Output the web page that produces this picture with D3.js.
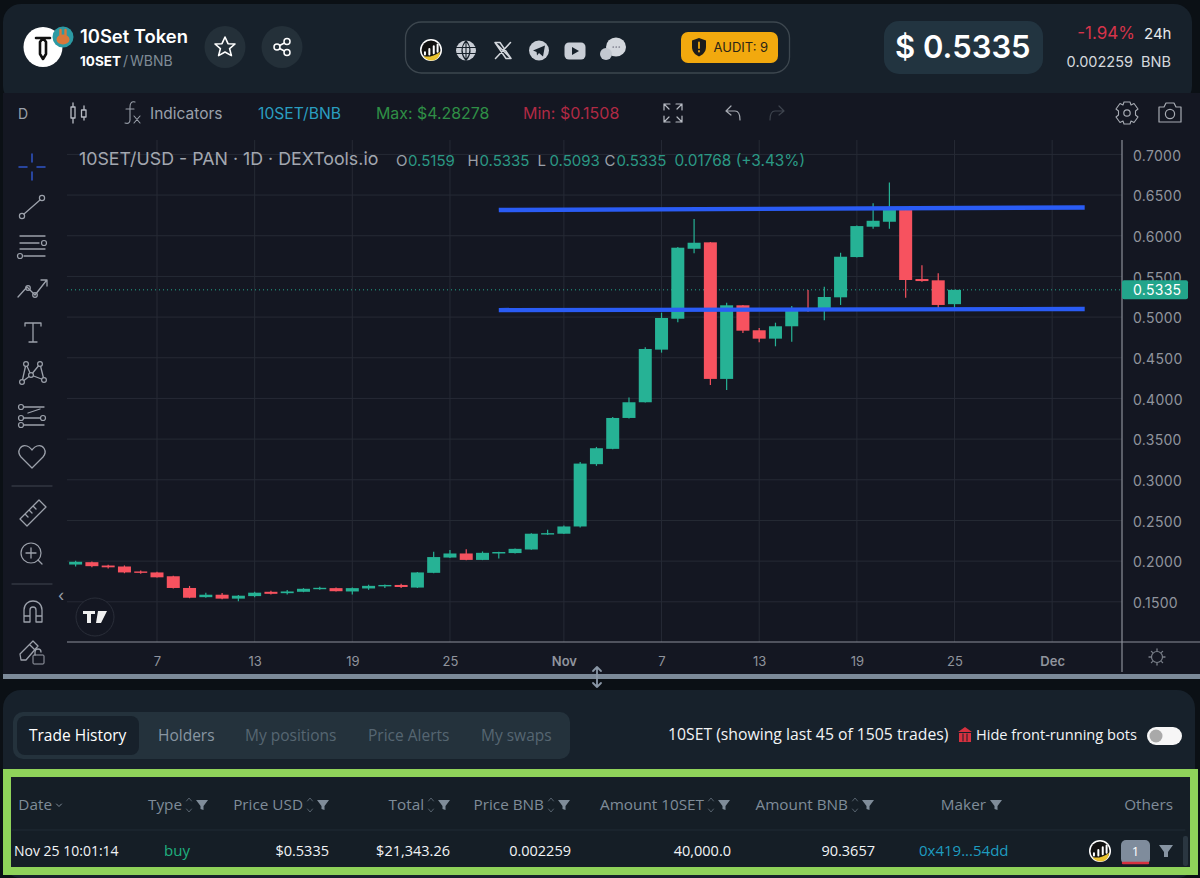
<!DOCTYPE html>
<html>
<head>
<meta charset="utf-8">
<script src="https://cdn.jsdelivr.net/npm/d3@7"></script>
<style>
html,body{margin:0;padding:0;background:#0b1015;overflow:hidden}
svg{display:block}
text{font-family:Inter,"Noto Sans",sans-serif}
</style>
</head>
<body>
<svg id="c" width="1200" height="878"></svg>
<script>
// ---- data ----
const firstDay = "2023-10-02";
const opens  = [.1958,.1987,.1946,.1934,.1873,.1861,.1814,.1670,.1557,.1587,.1539,.1570,.1623,.1606,.1623,.1656,.1668,.1627,.1664,.1690,.1707,.1675,.1856,.2044,.2094,.2015,.2094,.2099,.2143,.2327,.2337,.2426,.3192,.3380,.3760,.3953,.4600,.4980,.5840,.5919,.4240,.5145,.4838,.4735,.4887,.5103,.5079,.5243,.5738,.6111,.6172,.6316,.5468,.5452,.5159];
const highs  = [.2004,.1995,.1956,.1947,.1885,.1868,.1821,.1695,.1612,.1607,.1585,.1623,.1635,.1644,.1668,.1684,.1677,.1677,.1710,.1713,.1722,.1866,.2114,.2136,.2145,.2119,.2115,.2156,.2342,.2385,.2439,.3220,.3404,.3773,.4010,.4629,.5054,.5861,.6205,.5923,.5177,.5149,.4866,.4931,.5136,.5333,.5373,.5791,.6125,.6398,.6656,.6318,.5636,.5538,.5335];
const lows   = [.1933,.1926,.1908,.1851,.1844,.1799,.1665,.1544,.1549,.1532,.1508,.1556,.1590,.1589,.1618,.1647,.1627,.1589,.1647,.1670,.1670,.1670,.1851,.2037,.2012,.2012,.2033,.2094,.2140,.2322,.2335,.2414,.3171,.3375,.3753,.3950,.4563,.4936,.5784,.4166,.4104,.4805,.4690,.4641,.4698,.5066,.4961,.5149,.5733,.6086,.6086,.5238,.5435,.5075,.5093];
const closes = [.1992,.1938,.1924,.1861,.1856,.1801,.1670,.1550,.1587,.1539,.1575,.1612,.1598,.1627,.1660,.1672,.1630,.1668,.1696,.1707,.1682,.1861,.2050,.2094,.2015,.2102,.2112,.2151,.2337,.2344,.2426,.3199,.3388,.3760,.3953,.4608,.4989,.5853,.5914,.4240,.5145,.4833,.4735,.4887,.5096,.5079,.5247,.5742,.6119,.6184,.6316,.5456,.5443,.5149,.5335];
const priceTicks = [.15,.20,.25,.30,.35,.40,.45,.50,.55,.60,.65,.70];
const timeTicks  = ["2023-10-07","2023-10-13","2023-10-19","2023-10-25","2023-11-01","2023-11-07","2023-11-13","2023-11-19","2023-11-25","2023-12-01"];
const timeLabels = ["7","13","19","25","Nov","7","13","19","25","Dec"];
const lastPrice = .5335;
const resistance = [["2023-10-28",.6316],["2023-12-03",.6347]];
const support    = [["2023-10-28",.5086],["2023-12-03",.5100]];
const legendOHLC = [["O","0.5159"],["H","0.5335"],["L","0.5093"],["C","0.5335"]];
const legendX = [396,467.5,537.5,604.5];
const tabs = ["Trade History","Holders","My positions","Price Alerts","My swaps"];
const tabColors = ["#ffffff","#8996a2","#566672","#566672","#566672"];
const tabX = [29,158,245,368,481];
const columns = ["Date","Type","Price USD","Total","Price BNB","Amount 10SET","Amount BNB","Maker","Others"];
const columnRight = [52,182,303,424,544,704,848,986,1173];
const sortable = [0,1,1,1,1,1,1,0,0];
const row = ["$0.5335","$21,343.26","0.002259","40,000.0","90.3657"];
const rowRight = [329,450,571,731,875];

// ---- helpers ----
const parse = d3.utcParse("%Y-%m-%d");
const svg = d3.select("#c");
const rect=(x,y,w,h,r,fill,g=svg)=>g.append("rect").attr("x",x).attr("y",y).attr("width",w).attr("height",h).attr("rx",r).attr("fill",fill);
const txt=(x,y,s,size,fill,o={},g=svg)=>g.append("text").attr("x",x).attr("y",y).text(s).attr("font-size",size).attr("fill",fill)
  .attr("font-weight",o.w||400).attr("text-anchor",o.a||"start").style("font-family",o.f||null);
const icon=(x,y,d,o={},g=svg)=>g.append("path").attr("transform",`translate(${x},${y})`).attr("d",d)
  .attr("fill",o.fill||"none").attr("stroke",o.stroke||(o.fill?"none":"#9aa0aa")).attr("stroke-width",o.sw||1.3).attr("stroke-linecap","round").attr("stroke-linejoin","round");
const circ=(cx,cy,r,fill,stroke,sw)=>svg.append("circle").attr("cx",cx).attr("cy",cy).attr("r",r).attr("fill",fill||"none").attr("stroke",stroke||"none").attr("stroke-width",sw||1);
const table="'Open Sans',Lato,sans-serif";

// ---- panels ----
rect(3,4,1189,100,18,"#17212b");
rect(3,93,1197,585,0,"#141722");
rect(3,690,1192,188,18,"#17212b");

// ---- chart ----
const plot={l:67,r:1122,t:140,b:642};
const x=d3.scaleUtc().domain([new Date(Date.UTC(2023,9,1,11,17)),new Date(Date.UTC(2023,11,5,7,0))]).range([plot.l,plot.r]);
const y=d3.scaleLinear().domain([.15,.70]).range([601.8,154.4]);

const grid=svg.append("g").attr("stroke","#262a35").attr("stroke-width",1);
grid.selectAll("line.v").data(timeTicks).join("line").attr("class","v")
  .attr("x1",d=>x(parse(d))).attr("x2",d=>x(parse(d))).attr("y1",plot.t).attr("y2",plot.b);
grid.selectAll("line.h").data(priceTicks).join("line").attr("class","h")
  .attr("x1",plot.l).attr("x2",plot.r).attr("y1",d=>y(d)).attr("y2",d=>y(d));

// last-price dotted line
svg.append("line").attr("x1",plot.l).attr("x2",plot.r).attr("y1",y(lastPrice)).attr("y2",y(lastPrice))
  .attr("stroke","#26a98f").attr("stroke-width",1).attr("stroke-dasharray","1 3");

// candles
const GREEN="#26b295",RED="#f7525f";
const days=d3.range(opens.length).map(i=>d3.utcDay.offset(parse(firstDay),i));
const candles=svg.append("g").selectAll("g").data(days.map((d,i)=>({d,o:opens[i],h:highs[i],l:lows[i],c:closes[i]}))).join("g");
candles.append("line").attr("x1",d=>x(d.d)).attr("x2",d=>x(d.d)).attr("y1",d=>y(d.h)).attr("y2",d=>y(d.l))
  .attr("stroke",d=>d.c>=d.o?GREEN:RED).attr("stroke-width",1.2);
candles.append("rect").attr("x",d=>x(d.d)-6.5).attr("width",13)
  .attr("y",d=>y(Math.max(d.o,d.c))).attr("height",d=>Math.max(1.4,Math.abs(y(d.o)-y(d.c))))
  .attr("fill",d=>d.c>=d.o?GREEN:RED);

// drawn levels
[resistance,support].forEach(s=>{
  svg.append("line").attr("x1",x(parse(s[0][0]))).attr("x2",x(parse(s[1][0])))
    .attr("y1",y(s[0][1])).attr("y2",y(s[1][1])).attr("stroke","#2a5cf5").attr("stroke-width",4.4);
});

// axes
const yAxis=d3.axisRight(y).tickValues(priceTicks).tickFormat(d3.format(".4f")).tickSize(0).tickPadding(11);
const ya=svg.append("g").attr("transform",`translate(${plot.r},0)`).call(yAxis);
ya.select(".domain").remove();
ya.selectAll("text").attr("fill","#90949d").attr("font-size",14).attr("dy",".4em").style("font-family","Inter").style("letter-spacing",".3px");
const labelOf=new Map(timeTicks.map((d,i)=>[+parse(d),timeLabels[i]]));
const xAxis=d3.axisBottom(x).tickValues(timeTicks.map(parse)).tickFormat(d=>labelOf.get(+d)).tickSize(0).tickPadding(15);
const xa=svg.append("g").attr("transform",`translate(0,${plot.b})`).call(xAxis);
xa.select(".domain").remove();
xa.selectAll("text").attr("fill","#90949d").attr("font-size",13).attr("font-weight",d=>{const l=labelOf.get(+d);return l==="Nov"||l==="Dec"?600:400}).style("font-family","Inter");
svg.append("line").attr("x1",plot.r).attr("x2",plot.r).attr("y1",plot.t).attr("y2",672).attr("stroke","#8b8f99").attr("stroke-width",1.2);
svg.append("line").attr("x1",plot.l).attr("x2",1200).attr("y1",plot.b).attr("y2",plot.b).attr("stroke","#8b8f99").attr("stroke-width",1.2);

// last price tag
rect(plot.r,y(lastPrice)-9.5,66,19,2,"#22a58b");
txt(plot.r+11,y(lastPrice)+5,d3.format(".4f")(lastPrice),14,"#fff").style("letter-spacing",".3px");

// legend
txt(79,165,"10SET/USD - PAN · 1D · DEXTools.io",17.8,"#a3a7b0");
const lg=["#9ba0a8","#2b9985"];
legendOHLC.forEach(([k,v],i)=>{
  txt(legendX[i],166,k,15,lg[0]);
  txt(legendX[i]+12,166,v,15,lg[1]);
});
txt(674.5,166,"0.01768 (+3.43%)",15.4,lg[1]);

// TV logo & misc chart marks
circ(95,617,19,"#141722","#2a2e39");
icon(83,611,"M0 0H12V3H8V12H4V3H0Z M15 0H24L18 12H13Z",{fill:"#f0f0f0"});
txt(58,601,"‹",16,"#9aa0aa");
circ(1157,657,5.5,null,"#7b808a",1.2);
icon(1157,657,"M0 -8V-6.5M0 8V6.5M-8 0H-6.5M8 0H6.5M-5.6 -5.6L-4.6 -4.6M5.6 5.6L4.6 4.6M-5.6 5.6L-4.6 4.6M5.6 -5.6L4.6 -4.6",{stroke:"#7b808a"});

// resize bar
rect(3,674,1197,5,0,"#7c8a99");
icon(597,677,"M0 -10V10M-4 -6L0 -10L4 -6M-4 6L0 10L4 6",{stroke:"#8a97a6",sw:1.8});

// ---- header ----
svg.append("ellipse").attr("cx",43).attr("cy",47).attr("rx",19.5).attr("ry",20).attr("fill","#fff");
icon(43,47,"M-7 -9 H7 M0 -9 L-3 -5 L-3 7 L0 12 L3 7 L3 -5 Z",{stroke:"#111",sw:2.6});
circ(63,37,10.5,"#2c9aa3");
svg.append("ellipse").attr("cx",63).attr("cy",39.5).attr("rx",6.5).attr("ry",5).attr("fill","#d9773a");
icon(60.5,35,"M0 0V-5M5 0V-5",{stroke:"#d9773a",sw:2.4});
txt(80,43,"10Set Token",18.4,"#fff",{w:600});
txt(80,66,"10SET",13.5,"#fff",{w:700});
txt(123,66,"/",14,"#7f8b96");
txt(130,66,"WBNB",14,"#7f8b96");
[225,282].forEach(cx=>svg.append("ellipse").attr("cx",cx).attr("cy",47).attr("rx",20.5).attr("ry",21).attr("fill","#243039"));
icon(225,47,"M0 -10L3 -3.3L10 -3L4.6 1.6L6.4 8.6L0 5L-6.4 8.6L-4.6 1.6L-10 -3L-3 -3.3Z",{stroke:"#fff",sw:1.6});
[[277,47],[287,41.5],[287,52.5]].forEach(([a,b])=>circ(a,b,3,null,"#fff",1.5));
icon(0,0,"M279.6 45.5L284.4 43M279.6 48.5L284.4 51",{stroke:"#fff",sw:1.5});

rect(405.5,22,384,51,16,"none").attr("stroke","#3d474f").attr("stroke-width",1.3);
const logo=(cx,cy,r)=>{
  circ(cx,cy,r,"#fff");
  circ(cx,cy,r-1.5,"#111");
  icon(cx,cy,`M${-r*0.55} ${r*0.2}V${r*0.4}M${-r*0.15} ${-r*0.1}V${r*0.4}M${r*0.25} ${-r*0.35}V${r*0.3}M${r*0.6} ${-r*0.5}V${r*0.15}`,{stroke:"#fff",sw:2});
  icon(cx,cy,`M${-r*0.7} ${r*0.55}Q0 ${r*0.75} ${r*0.85} ${r*0.15}Q${r*0.7} ${r} 0 ${r*0.95}Q${-r*0.5} ${r*0.9} ${-r*0.7} ${r*0.55}Z`,{fill:"#e9c22e"});
};
logo(431,50,11);
circ(466,50.5,10,"#c9ced6");
icon(466,50.5,"M-10 -3H10M-10 3H10M0 -10V10M0 -10Q-8 0 0 10M0 -10Q8 0 0 10",{stroke:"#17212b",sw:1.1});
icon(503,50.5,"M-8 -8L8 8M-3 -8H-8L3 8H8ZM7.5 -8L-7.5 8",{stroke:"#d3d7dd",sw:1.5});
circ(539,50.5,10,"#c9ced6");
icon(539,50.5,"M-6 0L6 -5L4 6L0 2.6L-2 5L-2.4 1.4Z",{fill:"#17212b"});
rect(564.5,42.5,21,17,4.5,"#c9ced6");
icon(575,51,"M-3 -4L4 0L-3 4Z",{fill:"#17212b"});
svg.append("ellipse").attr("cx",616).attr("cy",47).attr("rx",10).attr("ry",9.5).attr("fill","#d3d7dd");
circ(606,54,6,"#c3c8d0");
icon(616,47,"M-3 0H-2.5M0 0H.5M3 0H3.5",{stroke:"#556",sw:1.2});

rect(681,32,97,31,7,"#f2a90e");
icon(699,47,"M0 -9L7 -6.5V0C7 5 3.5 8 0 9.5C-3.5 8 -7 5 -7 0V-6.5Z",{fill:"#1c1c1c"});
icon(699,47,"M0 -4.5V1M0 4V4.5",{stroke:"#f2a90e",sw:1.8});
txt(713.5,52,"AUDIT: 9",13,"#2a2416");

rect(884,21,159,53,15,"#223440");
txt(895,58,"$ 0.5335",31,"#fff",{w:600});
txt(1135,39,"-1.94%",17,"#d5344a",{a:"end"});
txt(1144,39,"24h",15,"#e6e9ec");
txt(1133,67,"0.002259",14.5,"#d5d9dd",{a:"end"});
txt(1171,67,"BNB",14.5,"#d5d9dd",{a:"end"});

// ---- toolbar ----
txt(18,119,"D",14,"#9aa0aa");
icon(74,113,"M-3 -6H1V5H-3ZM-1 -10V-6M-1 5V10",{stroke:"#b7bbc3"});
icon(84,113,"M-2.5 -3H2V4H-2.5ZM0 -7V-3M0 4V7",{stroke:"#b7bbc3"});
icon(130,113,"M5 -11C1 -12 0 -9 0 -6V7C0 10 -2 11 -5 10M-4 -4H4M4 3L10 10M10 3L4 10",{stroke:"#9aa0aa",sw:1.1});
txt(150,119,"Indicators",15.5,"#9aa0aa");
txt(258,119,"10SET/BNB",15.7,"#2a9ec0");
txt(376,119,"Max: $4.28278",15.9,"#2f8f46");
txt(523,119,"Min: $0.1508",16,"#b02a45");
icon(673,113,"M-9 -9H-3M-9 -9V-3M-9 -9L-4 -4M9 -9H3M9 -9V-3M9 -9L4 -4M-9 9H-3M-9 9V3M-9 9L-4 4M9 9H3M9 9V3M9 9L4 4",{stroke:"#b7bbc3",sw:1.2});
icon(733,113,"M-2 -7L-7 -2L-2 2M-7 -2H2C6 -2 7 2 7 7",{stroke:"#a7abb3",sw:1.2});
icon(777,113,"M2 -7L7 -2L2 2M7 -2H-2C-6 -2 -7 2 -7 7",{stroke:"#3e444e",sw:1.2});
circ(1127,113,3.2,null,"#a7abb3",1.2);
icon(1127,113,"M-3 -11H3L4 -8L7 -9.5L11 -4L8.5 -2V2L11 4L7 9.5L4 8L3 11H-3L-4 8L-7 9.5L-11 4L-8.5 2V-2L-11 -4L-7 -9.5L-4 -8Z",{stroke:"#a7abb3",sw:1.1});
icon(1170,113,"M-11 -6H-6L-4 -10H4L6 -6H11V9H-11Z",{stroke:"#a7abb3",sw:1.2});
circ(1170,114,4.6,null,"#a7abb3",1.2);

// ---- drawing tools ----
const toolC="#9ca1ab";
icon(32,167,"M0 -13V-5M0 5V13M-13 0H-5M5 0H13",{stroke:"#2f56c8",sw:1.5});
icon(0,0,"M24 214L40 200",{stroke:toolC});circ(22,216,2.6,null,toolC,1.2);circ(42,198,2.6,null,toolC,1.2);
icon(0,0,"M20 236H45M20 243H39M20 249H45M24 256H45",{stroke:toolC});circ(44,243,2.5,null,toolC,1.2);circ(20,256,2.5,null,toolC,1.2);
icon(0,0,"M18 297L27 287L35 295L46 281M41 280H47V286",{stroke:toolC});circ(28,288,2.3,null,toolC,1.2);circ(35,295,2.3,null,toolC,1.2);
icon(0,0,"M25 323H41M25 323V326M41 323V326M33 323V342M29 342H37",{stroke:toolC});
icon(0,0,"M22 382L26 364L31 375L22 382M26 364L31 375L40 364L44 380L31 375",{stroke:toolC});
[[22,382],[26,364],[31,375],[40,364],[44,380]].forEach(([a,b])=>circ(a,b,2.4,"#141722",toolC,1.2));
icon(0,0,"M24 407H44M24 418H40M24 425H44M28 413L40 409",{stroke:toolC});circ(21,407,2.5,null,toolC,1.2);circ(21,418,2.5,null,toolC,1.2);circ(21,425,2.5,null,toolC,1.2);circ(43,418,2.5,null,toolC,1.2);
icon(0,0,"M32 468L21 457C16 451 21 444 27 446C30 447 31 449 32 450C33 449 34 447 37 446C43 444 48 451 43 457Z",{stroke:toolC});
icon(0,0,"M12 486H52M12 584H52",{stroke:"#323741"});
icon(0,0,"M20 519L39 500L46 507L27 526ZM25 514L28 517M29 510L32 513M33 506L36 509",{stroke:toolC});
circ(31,553,10,null,toolC,1.2);
icon(0,0,"M31 548V558M26 553H36M38 560L42 564",{stroke:toolC});
icon(0,0,"M24 622V610C24 598 42 598 42 610V622H36V610C36 606 30 606 30 610V622ZM24 616H30M36 616H42",{stroke:toolC});
icon(0,0,"M21 660L20 654L33 641L38 646L26 660ZM30 645L35 650",{stroke:toolC});
rect(33,655,11,9,1,"none").attr("stroke",toolC);
icon(0,0,"M35 655V652C35 648 41 648 41 652",{stroke:toolC});

// ---- bottom panel ----
rect(13,712,557,47,10,"#24323c");
rect(17,716,122,39,8,"#17212b");
tabs.forEach((s,i)=>txt(tabX[i],741,s,15.5,tabColors[i],{f:table,w:i<2?500:400}));
txt(668,740,"10SET (showing last 45 of 1505 trades)",15.75,"#f2f4f6",{f:table});
icon(965,735,"M-7 -3L0 -8L7 -3ZM-6 -2H6V7H-6Z",{fill:"#d6313f"});
icon(965,735,"M-2 -1V6M2 -1V6",{stroke:"#17212b",sw:1});
txt(976,740,"Hide front-running bots",14.6,"#f2f4f6",{f:table});
rect(1147,727,35,18,9,"#f6f6f6");
circ(1156,736,6.5,"#a9a9a9");

// ---- table ----
rect(7,773,1187,98,0,"#151e26").attr("stroke","#8fd35a").attr("stroke-width",8);
icon(0,0,"M12 830H1185",{stroke:"#202b34",sw:1});
const filterTri="M-6 -5H6L1.5 1V5L-1.5 4V1Z";
columns.forEach((c,i)=>{
  txt(columnRight[i],810,c,15.3,"#7f8c99",{a:"end",f:table});
  if(sortable[i]){
    const sx=columnRight[i]+7;
    icon(sx,802,"M-2.5 -1L0 -4L2.5 -1",{stroke:"#55616c",sw:1});
    icon(sx,808,"M-2.5 1L0 4L2.5 1",{stroke:"#55616c",sw:1});
    icon(sx+13,805,filterTri,{fill:"#7f8c99"});
  }
});
icon(59,805,"M-2.5 -1L0 1.5L2.5 -1",{stroke:"#7f8c99",sw:1});
icon(996,805,filterTri,{fill:"#7f8c99"});
txt(14,856,"Nov 25 10:01:14",14,"#f2f4f6",{f:table});
txt(164,856,"buy",15,"#1fb07f",{f:table});
row.forEach((s,i)=>txt(rowRight[i],856,s,14.5,"#f2f4f6",{a:"end",f:table}));
txt(919,856,"0x419...54dd",15,"#1e9cc0",{f:table});
logo(1100,851,11);
rect(1121,840,29,24,5,"#7f8c9c");
icon(0,0,"M1123 863H1148",{stroke:"#d6313f",sw:2.4});
txt(1135.5,856,"1",13,"#fff",{a:"middle",f:table});
icon(1166,851,"M-7 -6H7L2 1V6H-2V1Z",{fill:"#8794a2"});
rect(1183,836,5,30,2,"#2a3640");
</script>
</body>
</html>
